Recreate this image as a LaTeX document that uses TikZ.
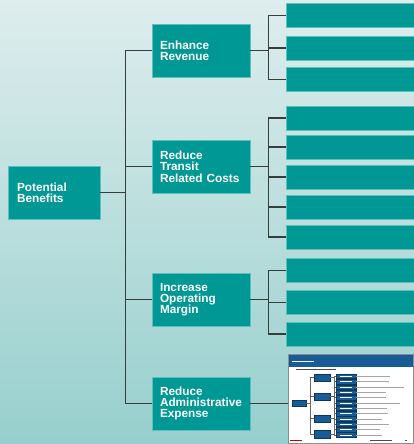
\documentclass[tikz,border=0pt]{standalone}
\usepackage{fontspec}
\setmainfont{Liberation Sans}
\usepackage{tikz}
\usetikzlibrary{calc}
\usepackage{xcolor}

\definecolor{boxteal}{RGB}{0,152,149}
\definecolor{boxedge}{RGB}{95,192,187}
\definecolor{bgtop}{RGB}{222,237,237}
\definecolor{bgbottom}{RGB}{150,207,205}
\definecolor{linkgrey}{RGB}{55,60,60}
\definecolor{slideblue}{RGB}{22,92,150}

\tikzset{
  box/.style={fill=boxteal, draw=boxedge, line width=0.6pt, text=white, align=left,
    font=\fontsize{11.8}{11.3}\selectfont\bfseries, inner ysep=0pt},
  goalbox/.style={box, minimum height=53pt, text width=82pt, inner xsep=8pt},
  rootbox/.style={box, minimum height=53pt, text width=74pt, inner xsep=9pt},
  leafbox/.style={fill=boxteal, draw=boxedge, line width=0.6pt, minimum width=128pt,
    minimum height=24pt, inner sep=0pt},
  link/.style={draw=linkgrey, line width=1.2pt},
  minibox/.style={fill=slideblue, draw=slideblue!60!black, line width=0.3pt},
  minilink/.style={draw=black!60, line width=0.4pt}
}

\begin{document}
\begin{tikzpicture}[x=1pt, y=-1pt]
  % Background with its gradient
  \useasboundingbox (0,0) rectangle (414,444);
  \shade[top color=bgtop, bottom color=bgbottom] (0,0) rectangle (414,444);

  % Root box
  \node[rootbox] (pb) at (54,192.5) {Potential\\Benefits};

  % The four benefit boxes
  \node[goalbox] (er) at (201,50.5) {Enhance\\Revenue};
  \node[goalbox] (rt) at (201,166.5) {Reduce\\Transit\\Related Costs};
  \node[goalbox] (iom) at (201,299.5) {Increase\\Operating\\Margin};
  \node[goalbox] (rae) at (201,403.5) {Reduce\\Administrative\\Expense};

  % Trunk from the root to the benefits
  \coordinate (pbj) at ($(pb.east)+(25,0)$);
  \draw[link] (pb.east) -- (pbj);
  \foreach \n in {er,rt,iom,rae}
    \draw[link] (pbj) |- (\n.west);

  % Empty boxes on the right
  \foreach \y [count=\i] in {15.5,48,79.5}
    \node[leafbox] (er\i) at (350,\y) {};
  \foreach \y [count=\i] in {118,147,177,207,237}
    \node[leafbox] (rt\i) at (350,\y) {};
  \foreach \y [count=\i] in {270.5,302.5,334}
    \node[leafbox] (iom\i) at (350,\y) {};

  % Brackets to the empty boxes
  \coordinate (erj) at ($(er.east)+(18,0)$);
  \draw[link] (er.east) -- (erj);
  \foreach \i in {1,...,3}
    \draw[link] (erj) |- (er\i.west);

  \coordinate (rtj) at ($(rt.east)+(18,0)$);
  \draw[link] (rt.east) -- (rtj);
  \foreach \i in {1,...,5}
    \draw[link] (rtj) |- (rt\i.west);

  \coordinate (iomj) at ($(iom.east)+(18,0)$);
  \draw[link] (iom.east) -- (iomj);
  \foreach \i in {1,...,3}
    \draw[link] (iomj) |- (iom\i.west);

  % Small slide picture
  \node[draw=black!45, fill=white, line width=0.6pt, minimum width=125pt,
    minimum height=89pt, inner sep=0pt] (slide) at (350.5,398.5) {};
  \draw[link] (rae.east) -- (rae.east -| slide.west);

  % Slide header and subtitle
  \fill[slideblue] (288.5,354.5) rectangle (413,367);
  \draw[white, line width=0.6pt] (292,361) -- (314,361);
  \draw[black!70, line width=0.6pt] (296,369.5) -- (336,369.5);

  % Slide tree
  \filldraw[minibox] (292,400) rectangle (306,406);
  \draw[minilink] (306,403) -- (310,403);
  \foreach \a/\b in {374/381,393/400,415/422,430/438} {
    \filldraw[minibox] (314,\a) rectangle (330,\b);
    \draw[minilink] (310,{(\a+\b)/2}) -- (314,{(\a+\b)/2});
    \draw[minilink] (330,{(\a+\b)/2}) -- (334,{(\a+\b)/2});
  }
  \draw[minilink] (310,377.5) -- (310,434);
  \draw[minilink] (334,376) -- (334,436);
  \foreach \e [count=\i from 0] in {390,389,404,386,386,400,387,388,382,389,380,382} {
    \pgfmathsetmacro{\top}{374+\i*5.33}
    \filldraw[minibox] (336,\top) rectangle (356,\top+4.6);
    \draw[white, line width=0.3pt] (340,\top+2.3) -- (352,\top+2.3);
    \draw[minilink] (334,\top+2.3) -- (336,\top+2.3);
    \draw[gray!70, line width=0.4pt] (356,\top+2.3) -- (\e,\top+2.3);
  }

  % Slide footer
  \draw[red!80!black, line width=0.6pt] (290,440.5) -- (302,440.5);
  \draw[black!70, line width=0.5pt] (370,440.5) -- (392,440.5);
  \draw[black!70, line width=0.5pt] (405,440.5) -- (407,440.5);
\end{tikzpicture}
\end{document}
